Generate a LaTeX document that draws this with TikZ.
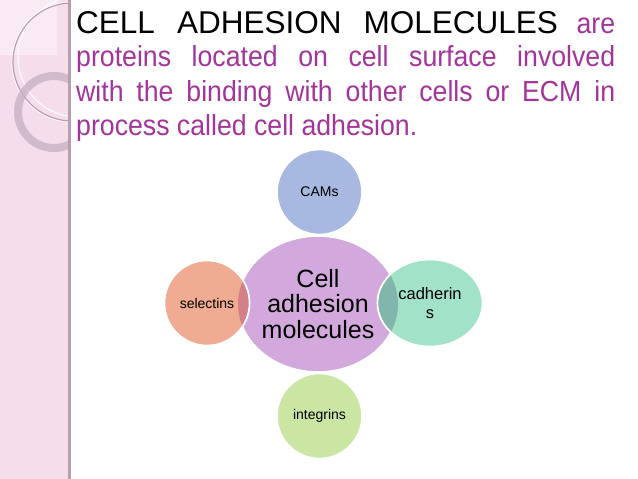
\documentclass[tikz,border=0pt]{standalone}
\usepackage{fontspec}
\setmainfont{Liberation Sans}
\newfontfamily\bodyfont[FakeStretch=0.92]{Liberation Sans}
\usepackage{xcolor}
\usetikzlibrary{shapes.geometric}

\definecolor{stripPink}{RGB}{246,221,236}
\definecolor{paperPink}{RGB}{250,234,243}
\definecolor{ringGray}{RGB}{200,178,194}
\definecolor{edgeGray}{RGB}{185,158,176}
\definecolor{textPlum}{RGB}{163,52,154}
\definecolor{hubPurple}{RGB}{211,169,221}
\definecolor{camBlue}{RGB}{167,185,224}
\definecolor{selSalmon}{RGB}{239,172,146}
\definecolor{selDeep}{RGB}{212,128,136}
\definecolor{cadGreen}{RGB}{162,226,201}
\definecolor{cadDeep}{RGB}{128,182,172}
\definecolor{intGreen}{RGB}{203,229,163}

\begin{document}
\begin{tikzpicture}[x=1pt,y=-1pt,
  line/.style={anchor=base west, inner sep=0pt, text=textPlum, font=\bodyfont\fontsize{29}{34}\selectfont},
  hub/.style={ellipse, draw=white, line width=1.6pt, fill=hubPurple, minimum width=160pt, minimum height=136pt, inner sep=0pt, align=center, font=\fontsize{25}{25.5}\selectfont},
  petal/.style={circle, draw=white, line width=1.6pt, minimum size=85pt, inner sep=0pt, align=center, font=\fontsize{14}{18}\selectfont},
  lens/.style={draw=white, line width=1.6pt}]
  \useasboundingbox (0,0) rectangle (638,479);

  % side strip
  \fill[stripPink] (0,0) rectangle (68,479);
  \fill[paperPink] (0,0) rectangle (57,55);
  \begin{scope}
    \clip (0,0) rectangle (68,479);
    \draw[white, line width=1pt] (78,57) circle (60);
    \draw[edgeGray, line width=1.2pt] (72,62) circle (59);
    \draw[white, line width=.6pt] (72,62) circle (60.2);
    \draw[ringGray, line width=8pt, opacity=.8] (54,112) circle (36);
  \end{scope}
  \fill[edgeGray] (68,0) rectangle (71,479);

  % text
  \node[line] (line1) at (76,33) {\makebox[539pt][s]{{\color{black}\normalfont\fontsize{31.5}{34}\selectfont CELL ADHESION MOLECULES} are}};
  \node[line] (line2) at (76,66) {\makebox[539pt][s]{proteins located on cell surface involved}};
  \node[line] (line3) at (76,101) {\makebox[539pt][s]{with the binding with other cells or ECM in}};
  \node[line] (line4) at (76,135) {process called cell adhesion.};

  % diagram
  \node[hub] (hub) at (318,304) {Cell\\adhesion\\molecules};
  \node[petal, fill=camBlue] (cams) at (319.5,192) {CAMs};
  \node[petal, fill=selSalmon] (sel) at (207,303) {selectins};
  \node[petal, ellipse, fill=cadGreen, minimum width=105pt, minimum height=87pt, font=\fontsize{16.5}{19}\selectfont] (cad) at (430,303) {cadherin\\s};
  \node[petal, fill=intGreen] (int) at (319.5,416) {integrins};

  % overlaps with the hub
  \begin{scope}
    \clip (hub.center) ellipse [x radius=80, y radius=68];
    \fill[lens, fill=selDeep] (sel.center) circle [radius=42.5];
    \fill[lens, fill=cadDeep] (cad.center) ellipse [x radius=52.5, y radius=43.5];
  \end{scope}
\end{tikzpicture}
\end{document}
